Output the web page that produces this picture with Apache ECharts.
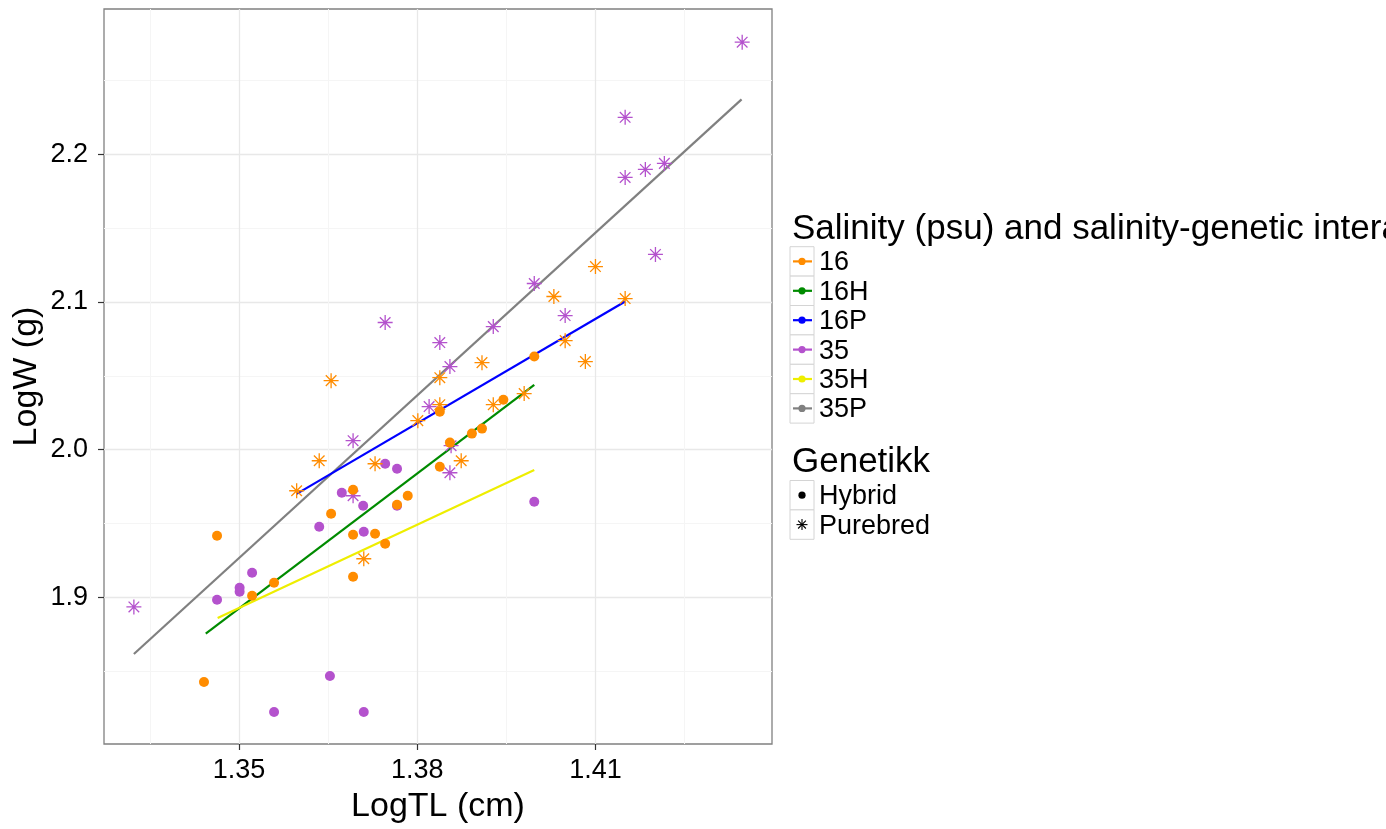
<!DOCTYPE html>
<html><head><meta charset="utf-8">
<script src="https://cdn.jsdelivr.net/npm/echarts@6/dist/echarts.min.js"></script>
<style>html,body{margin:0;padding:0;background:#fff}#c{width:1386px;height:829px}</style>
</head><body><div id="c"></div>
<script>
// ---- data ----
const xTicks = [1.35, 1.38, 1.41];
const yTicks = [1.9, 2.0, 2.1, 2.2];

const pts16Hybrid = [
  [1.3463,1.9416],[1.3441,1.8425],[1.3522,1.9009],[1.3559,1.9097],[1.3692,1.9423],
  [1.3729,1.9429],[1.3746,1.9362],[1.3692,1.9138],[1.3692,1.9728],[1.3655,1.9565],
  [1.3766,1.9626],[1.3784,1.9687],[1.3838,2.0257],[1.3855,2.0047],[1.3892,2.0108],
  [1.3909,2.0142],[1.3945,2.0338],[1.3997,2.0630],[1.3838,1.9884]
];
const pts16Purebred = [
  [1.3655,2.0467],[1.3635,1.9924],[1.3597,1.9721],[1.3729,1.9904],[1.3710,1.9260],
  [1.3801,2.0196],[1.3838,2.0487],[1.3838,2.0304],[1.3909,2.0589],[1.4030,2.1037],
  [1.4049,2.0738],[1.3928,2.0304],[1.3980,2.0379],[1.3874,1.9924],[1.4083,2.0596],
  [1.4100,2.1240],[1.4150,2.1023]
];
const pts35Hybrid = [
  [1.3635,1.9477],[1.3710,1.9443],[1.3522,1.9165],[1.3501,1.9063],[1.3501,1.9036],
  [1.3463,1.8982],[1.3653,1.8466],[1.3559,1.8222],[1.3710,1.8222],[1.3746,1.9904],
  [1.3766,1.9870],[1.3673,1.9707],[1.3709,1.9619],[1.3766,1.9619],[1.3997,1.9646]
];
const pts35Purebred = [
  [1.3323,1.8934],[1.3692,2.0060],[1.3692,1.9687],[1.3746,2.0861],[1.3838,2.0725],
  [1.3855,2.0562],[1.3928,2.0833],[1.3997,2.1125],[1.4049,2.0908],[1.3820,2.0291],
  [1.3855,1.9843],[1.4347,2.2760],[1.4150,2.2251],[1.4150,2.1844],[1.4184,2.1898],
  [1.4216,2.1939],[1.4201,2.1322],[1.3857,2.0026]
];
// fitted regression lines (start, end)
const fit16H = [[1.3444,1.8753],[1.3997,2.0438]];
const fit16P = [[1.3597,1.9700],[1.4150,2.1003]];
const fit35H = [[1.3464,1.8858],[1.3997,1.9861]];
const fit35P = [[1.3323,1.8615],[1.4346,2.2373]];

const salinityKeys = ['16','16H','16P','35','35H','35P'];
const geneticKeys = ['Hybrid','Purebred'];
const legendTitle1 = 'Salinity (psu) and salinity-genetic interaction';
const legendTitle2 = 'Genetikk';
const xTitle = 'LogTL (cm)';
const yTitle = 'LogW (g)';

// ---- style ----
const FONT = '"Liberation Sans", Arial, sans-serif';
const colors = {'16':'#FF8C00','16H':'#008B00','16P':'#0000FF','35':'#B452CD','35H':'#EEEE00','35P':'#808080'};
const STAR = 'path://M0,-10L0,10M-10,0L10,0M-7.07,-7.07L7.07,7.07M-7.07,7.07L7.07,-7.07';

function lineSeries(name, data) {
  return {name, type:'line', data, showSymbol:false, symbol:'none', silent:true, z:2,
    lineStyle:{color:colors[name], width:2.2, opacity:1}, emphasis:{disabled:true}};
}
function dotSeries(name, data, z) {
  return {name, type:'scatter', data, symbol:'circle', symbolSize:10, silent:true, z,
    itemStyle:{color:colors[name], opacity:1}, emphasis:{disabled:true}};
}
function starSeries(name, data, z) {
  return {name, type:'scatter', data, symbol:STAR, symbolSize:15, silent:true, z,
    itemStyle:{color:'rgba(0,0,0,0)', borderColor:colors[name], borderWidth:1.3, opacity:1}, emphasis:{disabled:true}};
}

// ---- legend (graphic) ----
const graphics = [];
const LX = 790, KW = 24, KH = 29.4;
graphics.push({type:'text', x:792, y:229, style:{text:legendTitle1, font:'35px '+FONT, fill:'#000',
  verticalAlign:'middle', textVerticalAlign:'middle'}});
salinityKeys.forEach((k, i) => {
  const top = 246.7 + i*KH, c = top + KH/2;
  graphics.push({type:'rect', shape:{x:LX, y:top, width:KW, height:KH}, style:{fill:'#fff', stroke:'#d4d4d4', lineWidth:1}});
  graphics.push({type:'line', shape:{x1:LX+3, y1:c, x2:LX+KW-2, y2:c}, style:{stroke:colors[k], lineWidth:2.2}});
  graphics.push({type:'circle', shape:{cx:LX+KW/2, cy:c, r:3.6}, style:{fill:colors[k]}});
  graphics.push({type:'text', x:819, y:c+1.5, style:{text:k, font:'27px '+FONT, fill:'#000',
    verticalAlign:'middle', textVerticalAlign:'middle'}});
});
graphics.push({type:'text', x:792, y:462, style:{text:legendTitle2, font:'35px '+FONT, fill:'#000',
  verticalAlign:'middle', textVerticalAlign:'middle'}});
geneticKeys.forEach((k, i) => {
  const top = 480.5 + i*KH, c = top + KH/2, cx = LX + KW/2;
  graphics.push({type:'rect', shape:{x:LX, y:top, width:KW, height:KH}, style:{fill:'#fff', stroke:'#d4d4d4', lineWidth:1}});
  if (i === 0) {
    graphics.push({type:'circle', shape:{cx, cy:c, r:3.6}, style:{fill:'#000'}});
  } else {
    const r = 5.5, d = r*0.707;
    [[0,-r,0,r],[-r,0,r,0],[-d,-d,d,d],[-d,d,d,-d]].forEach(s => {
      graphics.push({type:'line', shape:{x1:cx+s[0], y1:c+s[1], x2:cx+s[2], y2:c+s[3]}, style:{stroke:'#000', lineWidth:1.1}});
    });
  }
  graphics.push({type:'text', x:819, y:c+1.5, style:{text:k, font:'27px '+FONT, fill:'#000',
    verticalAlign:'middle', textVerticalAlign:'middle'}});
});

const chart = echarts.init(document.getElementById('c'), null, {renderer:'canvas'});
chart.setOption({
  animation:false,
  backgroundColor:'#fff',
  grid:{left:104, right:614, top:9, bottom:85, show:true, borderColor:'#808080', borderWidth:1.3,
    backgroundColor:'#fff', containLabel:false, outerBoundsMode:'none'},
  xAxis:{
    type:'value', min:1.32727, max:1.43972, splitNumber:4, minInterval:0.03, maxInterval:0.03,
    axisLine:{show:false},
    axisTick:{show:true, length:6, customValues:xTicks, lineStyle:{color:'#333', width:1.2}},
    axisLabel:{customValues:xTicks, formatter:v => v.toFixed(2), fontSize:27, color:'#000', margin:13, fontFamily:FONT},
    splitLine:{show:true, lineStyle:{color:'#E8E8E8', width:1.3}},
    minorTick:{show:false, splitNumber:2},
    minorSplitLine:{show:true, lineStyle:{color:'#F5F5F5', width:1}},
    name:xTitle, nameLocation:'middle', nameGap:46,
    nameTextStyle:{fontSize:34, color:'#000', fontFamily:FONT}
  },
  yAxis:{
    type:'value', min:1.8005, max:2.2985, splitNumber:5, minInterval:0.1, maxInterval:0.1,
    axisLine:{show:false},
    axisTick:{show:true, length:6, customValues:yTicks, lineStyle:{color:'#333', width:1.2}},
    axisLabel:{customValues:yTicks, formatter:v => v.toFixed(1), fontSize:27, color:'#000', margin:16, fontFamily:FONT},
    splitLine:{show:true, lineStyle:{color:'#E8E8E8', width:1.3}},
    minorTick:{show:false, splitNumber:2},
    minorSplitLine:{show:true, lineStyle:{color:'#F5F5F5', width:1}},
    name:yTitle, nameLocation:'middle', nameGap:60, nameRotate:90,
    nameTextStyle:{fontSize:34, color:'#000', fontFamily:FONT}
  },
  series:[
    lineSeries('35P', fit35P),
    lineSeries('16P', fit16P),
    lineSeries('16H', fit16H),
    lineSeries('35H', fit35H),
    dotSeries('35', pts35Hybrid, 3),
    starSeries('35', pts35Purebred, 3),
    dotSeries('16', pts16Hybrid, 4),
    starSeries('16', pts16Purebred, 4)
  ],
  graphic:{elements:graphics}
});
</script>
</body></html>
